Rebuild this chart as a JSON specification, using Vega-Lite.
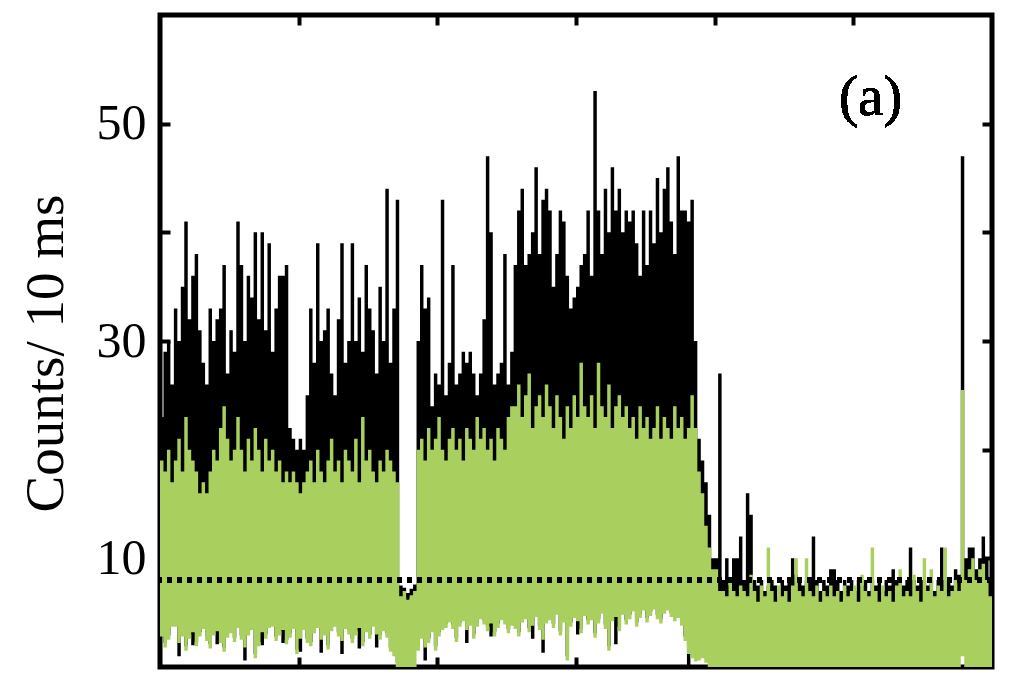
{
"$schema": "https://vega.github.io/schema/vega-lite/v6.json",
"width": 832, "height": 652,
"autosize": {"type": "none"},
"padding": {"left": 160, "top": 15, "right": 32, "bottom": 22},
"background": "white",
"config": {"view": {"stroke": "black", "strokeWidth": 5}, "axis": {"domain": false, "grid": false, "labelFont": "Liberation Serif", "titleFont": "Liberation Serif"}},
"data": {"values": [
{"t":0,"bl":3.2,"bh":23,"gl":2.8,"gh":19},
{"t":1,"bl":2.2,"bh":29,"gl":1.8,"gh":18},
{"t":2,"bl":2.9,"bh":30,"gl":2.5,"gh":20},
{"t":3,"bl":4.1,"bh":26,"gl":3.7,"gh":17},
{"t":4,"bl":4.1,"bh":33,"gl":3.7,"gh":19},
{"t":5,"bl":1.0,"bh":30,"gl":2.2,"gh":21},
{"t":6,"bl":3.2,"bh":35,"gl":2.8,"gh":18},
{"t":7,"bl":1.9,"bh":41,"gl":1.5,"gh":23},
{"t":8,"bl":3.0,"bh":32,"gl":2.6,"gh":20},
{"t":9,"bl":2.0,"bh":36,"gl":3.2,"gh":19},
{"t":10,"bl":2.3,"bh":38,"gl":1.9,"gh":18},
{"t":11,"bl":3.2,"bh":31,"gl":2.8,"gh":16},
{"t":12,"bl":3.9,"bh":28,"gl":3.5,"gh":17},
{"t":13,"bl":2.8,"bh":26,"gl":2.4,"gh":16},
{"t":14,"bl":2.1,"bh":33,"gl":1.7,"gh":18},
{"t":15,"bl":3.3,"bh":30,"gl":2.9,"gh":20},
{"t":16,"bl":2.1,"bh":32,"gl":3.3,"gh":19},
{"t":17,"bl":2.6,"bh":33,"gl":2.2,"gh":22},
{"t":18,"bl":1.8,"bh":37,"gl":1.4,"gh":24},
{"t":19,"bl":3.1,"bh":27,"gl":2.7,"gh":21},
{"t":20,"bl":3.5,"bh":31,"gl":3.1,"gh":19},
{"t":21,"bl":2.7,"bh":29,"gl":2.3,"gh":20},
{"t":22,"bl":4.0,"bh":41,"gl":3.6,"gh":23},
{"t":23,"bl":2.9,"bh":37,"gl":2.5,"gh":20},
{"t":24,"bl":0.6,"bh":30,"gl":1.8,"gh":18},
{"t":25,"bl":3.3,"bh":36,"gl":2.9,"gh":21},
{"t":26,"bl":3.8,"bh":34,"gl":3.4,"gh":19},
{"t":27,"bl":1.2,"bh":40,"gl":0.8,"gh":22},
{"t":28,"bl":2.3,"bh":32,"gl":1.9,"gh":20},
{"t":29,"bl":2.0,"bh":40,"gl":3.2,"gh":18},
{"t":30,"bl":3.0,"bh":31,"gl":2.6,"gh":21},
{"t":31,"bl":4.0,"bh":39,"gl":3.6,"gh":19},
{"t":32,"bl":4.1,"bh":29,"gl":3.7,"gh":20},
{"t":33,"bl":2.8,"bh":33,"gl":2.4,"gh":18},
{"t":34,"bl":3.3,"bh":36,"gl":2.9,"gh":19},
{"t":35,"bl":2.2,"bh":36,"gl":3.4,"gh":17},
{"t":36,"bl":2.5,"bh":37,"gl":2.1,"gh":18},
{"t":37,"bl":3.1,"bh":22,"gl":2.7,"gh":17},
{"t":38,"bl":3.9,"bh":21,"gl":3.5,"gh":18},
{"t":39,"bl":1.6,"bh":20,"gl":1.2,"gh":17},
{"t":40,"bl":1.4,"bh":21,"gl":2.6,"gh":16},
{"t":41,"bl":3.8,"bh":20,"gl":3.4,"gh":17},
{"t":42,"bl":2.6,"bh":25,"gl":2.2,"gh":18},
{"t":43,"bl":2.3,"bh":33,"gl":1.9,"gh":19},
{"t":44,"bl":3.5,"bh":28,"gl":3.1,"gh":17},
{"t":45,"bl":4.0,"bh":39,"gl":3.6,"gh":20},
{"t":46,"bl":1.3,"bh":30,"gl":2.5,"gh":18},
{"t":47,"bl":3.3,"bh":31,"gl":2.9,"gh":17},
{"t":48,"bl":2.0,"bh":33,"gl":1.6,"gh":19},
{"t":49,"bl":3.7,"bh":27,"gl":3.3,"gh":21},
{"t":50,"bl":4.1,"bh":25,"gl":3.7,"gh":18},
{"t":51,"bl":3.2,"bh":32,"gl":2.8,"gh":19},
{"t":52,"bl":1.2,"bh":39,"gl":2.4,"gh":17},
{"t":53,"bl":3.9,"bh":28,"gl":3.5,"gh":20},
{"t":54,"bl":3.4,"bh":30,"gl":3.0,"gh":19},
{"t":55,"bl":2.6,"bh":39,"gl":2.2,"gh":18},
{"t":56,"bl":3.3,"bh":30,"gl":2.9,"gh":21},
{"t":57,"bl":1.7,"bh":34,"gl":3.6,"gh":17},
{"t":58,"bl":2.3,"bh":29,"gl":1.9,"gh":23},
{"t":59,"bl":3.6,"bh":37,"gl":3.2,"gh":19},
{"t":60,"bl":3.0,"bh":33,"gl":2.6,"gh":20},
{"t":61,"bl":4.1,"bh":31,"gl":3.7,"gh":18},
{"t":62,"bl":1.8,"bh":27,"gl":3.0,"gh":17},
{"t":63,"bl":2.9,"bh":35,"gl":2.5,"gh":19},
{"t":64,"bl":3.7,"bh":30,"gl":3.3,"gh":18},
{"t":65,"bl":3.1,"bh":44,"gl":2.7,"gh":20},
{"t":66,"bl":1.8,"bh":28,"gl":1.4,"gh":19},
{"t":67,"bl":1.4,"bh":33,"gl":1.0,"gh":18},
{"t":68,"bl":0.4,"bh":43,"gl":0,"gh":17},
{"t":69,"bl":6.2,"bh":7.5,"gl":0,"gh":6.5},
{"t":70,"bl":6.4,"bh":7.3,"gl":0,"gh":7},
{"t":71,"bl":6.0,"bh":6.8,"gl":0,"gh":6.2},
{"t":72,"bl":6.3,"bh":7.2,"gl":0,"gh":6.6},
{"t":73,"bl":6.5,"bh":7.6,"gl":0,"gh":7},
{"t":74,"bl":1.9,"bh":30,"gl":1.5,"gh":20},
{"t":75,"bl":3.0,"bh":37,"gl":2.6,"gh":21},
{"t":76,"bl":0.6,"bh":33,"gl":1.8,"gh":19},
{"t":77,"bl":2.6,"bh":34,"gl":2.2,"gh":22},
{"t":78,"bl":3.6,"bh":24,"gl":3.2,"gh":20},
{"t":79,"bl":1.9,"bh":27,"gl":1.5,"gh":21},
{"t":80,"bl":3.2,"bh":26,"gl":2.8,"gh":23},
{"t":81,"bl":3.8,"bh":43,"gl":3.4,"gh":20},
{"t":82,"bl":4.0,"bh":25,"gl":3.6,"gh":19},
{"t":83,"bl":4.5,"bh":28,"gl":4.1,"gh":21},
{"t":84,"bl":3.9,"bh":37,"gl":3.5,"gh":22},
{"t":85,"bl":2.7,"bh":26,"gl":2.3,"gh":20},
{"t":86,"bl":4.1,"bh":27,"gl":3.7,"gh":21},
{"t":87,"bl":4.6,"bh":29,"gl":4.2,"gh":19},
{"t":88,"bl":2.2,"bh":28,"gl":3.4,"gh":22},
{"t":89,"bl":4.2,"bh":29,"gl":3.8,"gh":21},
{"t":90,"bl":3.0,"bh":27,"gl":2.6,"gh":20},
{"t":91,"bl":4.1,"bh":25,"gl":3.7,"gh":23},
{"t":92,"bl":4.8,"bh":27,"gl":4.4,"gh":21},
{"t":93,"bl":4.3,"bh":32,"gl":3.9,"gh":22},
{"t":94,"bl":3.7,"bh":47,"gl":3.3,"gh":20},
{"t":95,"bl":2.8,"bh":40,"gl":4.0,"gh":21},
{"t":96,"bl":3.2,"bh":26,"gl":2.8,"gh":19},
{"t":97,"bl":4.0,"bh":27,"gl":3.6,"gh":22},
{"t":98,"bl":4.7,"bh":28,"gl":4.3,"gh":21},
{"t":99,"bl":4.3,"bh":38,"gl":3.9,"gh":20},
{"t":100,"bl":3.5,"bh":26,"gl":3.1,"gh":23},
{"t":101,"bl":4.2,"bh":29,"gl":3.8,"gh":24},
{"t":102,"bl":3.9,"bh":37,"gl":3.5,"gh":24},
{"t":103,"bl":3.2,"bh":42,"gl":2.8,"gh":26},
{"t":104,"bl":4.5,"bh":44,"gl":4.1,"gh":23},
{"t":105,"bl":4.8,"bh":37,"gl":4.4,"gh":25},
{"t":106,"bl":3.6,"bh":38,"gl":3.2,"gh":27},
{"t":107,"bl":2.6,"bh":40,"gl":3.8,"gh":22},
{"t":108,"bl":5.0,"bh":46,"gl":4.6,"gh":24},
{"t":109,"bl":3.8,"bh":38,"gl":3.4,"gh":25},
{"t":110,"bl":1.3,"bh":43,"gl":2.5,"gh":23},
{"t":111,"bl":4.4,"bh":44,"gl":4.0,"gh":26},
{"t":112,"bl":4.7,"bh":42,"gl":4.3,"gh":24},
{"t":113,"bl":4.0,"bh":35,"gl":3.6,"gh":22},
{"t":114,"bl":5.2,"bh":38,"gl":4.8,"gh":25},
{"t":115,"bl":3.3,"bh":42,"gl":2.9,"gh":23},
{"t":116,"bl":4.5,"bh":41,"gl":4.1,"gh":21},
{"t":117,"bl":1.0,"bh":36,"gl":0.6,"gh":24},
{"t":118,"bl":4.1,"bh":33,"gl":3.7,"gh":22},
{"t":119,"bl":4.9,"bh":34,"gl":4.5,"gh":25},
{"t":120,"bl":3.0,"bh":35,"gl":4.2,"gh":23},
{"t":121,"bl":3.5,"bh":37,"gl":3.1,"gh":28},
{"t":122,"bl":5.1,"bh":38,"gl":4.7,"gh":24},
{"t":123,"bl":4.3,"bh":42,"gl":3.9,"gh":23},
{"t":124,"bl":4.7,"bh":36,"gl":4.3,"gh":25},
{"t":125,"bl":3.1,"bh":53,"gl":2.7,"gh":22},
{"t":126,"bl":4.4,"bh":42,"gl":4.0,"gh":28},
{"t":127,"bl":5.3,"bh":38,"gl":4.9,"gh":24},
{"t":128,"bl":3.9,"bh":44,"gl":3.5,"gh":23},
{"t":129,"bl":1.9,"bh":40,"gl":1.5,"gh":26},
{"t":130,"bl":4.6,"bh":46,"gl":4.2,"gh":22},
{"t":131,"bl":2.1,"bh":42,"gl":4.6,"gh":24},
{"t":132,"bl":3.7,"bh":44,"gl":3.3,"gh":25},
{"t":133,"bl":5.2,"bh":40,"gl":4.8,"gh":23},
{"t":134,"bl":4.3,"bh":42,"gl":3.9,"gh":24},
{"t":135,"bl":4.8,"bh":41,"gl":4.4,"gh":22},
{"t":136,"bl":5.5,"bh":42,"gl":5.1,"gh":23},
{"t":137,"bl":4.1,"bh":39,"gl":3.7,"gh":21},
{"t":138,"bl":4.9,"bh":36,"gl":4.5,"gh":24},
{"t":139,"bl":5.6,"bh":42,"gl":5.2,"gh":22},
{"t":140,"bl":4.5,"bh":37,"gl":4.1,"gh":23},
{"t":141,"bl":5.1,"bh":42,"gl":4.7,"gh":21},
{"t":142,"bl":5.7,"bh":39,"gl":5.3,"gh":22},
{"t":143,"bl":4.8,"bh":45,"gl":4.4,"gh":24},
{"t":144,"bl":4.4,"bh":40,"gl":4.0,"gh":21},
{"t":145,"bl":5.3,"bh":44,"gl":4.9,"gh":23},
{"t":146,"bl":5.6,"bh":46,"gl":5.2,"gh":22},
{"t":147,"bl":5.0,"bh":41,"gl":4.6,"gh":21},
{"t":148,"bl":4.6,"bh":38,"gl":4.2,"gh":24},
{"t":149,"bl":4.9,"bh":47,"gl":4.5,"gh":22},
{"t":150,"bl":4.2,"bh":42,"gl":3.8,"gh":23},
{"t":151,"bl":2.8,"bh":42,"gl":2.4,"gh":21},
{"t":152,"bl":0,"bh":41,"gl":1.2,"gh":22},
{"t":153,"bl":1.2,"bh":43,"gl":0.8,"gh":25},
{"t":154,"bl":0.9,"bh":30,"gl":0.5,"gh":22},
{"t":155,"bl":1.0,"bh":21,"gl":0.6,"gh":18},
{"t":156,"bl":1.2,"bh":19,"gl":0.8,"gh":16},
{"t":157,"bl":0.8,"bh":17,"gl":0.4,"gh":13},
{"t":158,"bl":0.4,"bh":14,"gl":0,"gh":11},
{"t":159,"bl":4,"bh":10,"gl":0,"gh":9},
{"t":160,"bl":5,"bh":10,"gl":0,"gh":9},
{"t":161,"bl":5,"bh":27,"gl":0,"gh":7},
{"t":162,"bl":5,"bh":8,"gl":0,"gh":7},
{"t":163,"bl":5,"bh":10,"gl":0,"gh":6.5},
{"t":164,"bl":5,"bh":7.5,"gl":0,"gh":8},
{"t":165,"bl":5,"bh":10,"gl":0,"gh":7},
{"t":166,"bl":5,"bh":10,"gl":0,"gh":6.5},
{"t":167,"bl":5,"bh":12,"gl":0,"gh":7.5},
{"t":168,"bl":5,"bh":8,"gl":0,"gh":7},
{"t":169,"bl":5,"bh":16,"gl":0,"gh":6.5},
{"t":170,"bl":5,"bh":14,"gl":0,"gh":8.5},
{"t":171,"bl":5,"bh":8,"gl":0,"gh":7},
{"t":172,"bl":5,"bh":7.5,"gl":0,"gh":6},
{"t":173,"bl":5,"bh":8,"gl":0,"gh":7.5},
{"t":174,"bl":5,"bh":7,"gl":0,"gh":6.5},
{"t":175,"bl":5,"bh":7.5,"gl":0,"gh":11},
{"t":176,"bl":5,"bh":8,"gl":0,"gh":7},
{"t":177,"bl":5,"bh":7.5,"gl":0,"gh":6},
{"t":178,"bl":5,"bh":6.5,"gl":0,"gh":7.5},
{"t":179,"bl":5,"bh":8,"gl":0,"gh":6.5},
{"t":180,"bl":5,"bh":7.5,"gl":0,"gh":7},
{"t":181,"bl":5,"bh":8,"gl":0,"gh":6},
{"t":182,"bl":5,"bh":10,"gl":0,"gh":7.5},
{"t":183,"bl":5,"bh":8.5,"gl":0,"gh":10},
{"t":184,"bl":5,"bh":8,"gl":0,"gh":7},
{"t":185,"bl":5,"bh":7.5,"gl":0,"gh":6.5},
{"t":186,"bl":5,"bh":8,"gl":0,"gh":10},
{"t":187,"bl":5,"bh":8,"gl":0,"gh":7},
{"t":188,"bl":5,"bh":12,"gl":0,"gh":6.5},
{"t":189,"bl":5,"bh":8,"gl":0,"gh":7.5},
{"t":190,"bl":5,"bh":7,"gl":0,"gh":6},
{"t":191,"bl":5,"bh":8,"gl":0,"gh":7},
{"t":192,"bl":5,"bh":7.5,"gl":0,"gh":6.5},
{"t":193,"bl":5,"bh":9,"gl":0,"gh":7.5},
{"t":194,"bl":5,"bh":9,"gl":0,"gh":6.5},
{"t":195,"bl":5,"bh":8,"gl":0,"gh":7},
{"t":196,"bl":5,"bh":7,"gl":0,"gh":6},
{"t":197,"bl":5,"bh":8,"gl":0,"gh":7.5},
{"t":198,"bl":5,"bh":7.5,"gl":0,"gh":6.5},
{"t":199,"bl":5,"bh":8,"gl":0,"gh":7},
{"t":200,"bl":5,"bh":7,"gl":0,"gh":7.5},
{"t":201,"bl":5,"bh":8,"gl":0,"gh":6},
{"t":202,"bl":5,"bh":7.5,"gl":0,"gh":8.5},
{"t":203,"bl":5,"bh":8,"gl":0,"gh":7},
{"t":204,"bl":5,"bh":7,"gl":0,"gh":6.5},
{"t":205,"bl":5,"bh":8,"gl":0,"gh":11},
{"t":206,"bl":5,"bh":7.5,"gl":0,"gh":7},
{"t":207,"bl":5,"bh":8,"gl":0,"gh":6},
{"t":208,"bl":5,"bh":7,"gl":0,"gh":7.5},
{"t":209,"bl":5,"bh":8,"gl":0,"gh":6.5},
{"t":210,"bl":5,"bh":7.5,"gl":0,"gh":7},
{"t":211,"bl":5,"bh":9,"gl":0,"gh":6},
{"t":212,"bl":5,"bh":8,"gl":0,"gh":7.5},
{"t":213,"bl":5,"bh":8,"gl":0,"gh":9},
{"t":214,"bl":5,"bh":7.5,"gl":0,"gh":6.5},
{"t":215,"bl":5,"bh":8,"gl":0,"gh":7},
{"t":216,"bl":5,"bh":11,"gl":0,"gh":6.5},
{"t":217,"bl":5,"bh":8,"gl":0,"gh":8.5},
{"t":218,"bl":5,"bh":7.5,"gl":0,"gh":7},
{"t":219,"bl":5,"bh":8,"gl":0,"gh":6},
{"t":220,"bl":5,"bh":8,"gl":0,"gh":10},
{"t":221,"bl":5,"bh":7.5,"gl":0,"gh":7},
{"t":222,"bl":5,"bh":8,"gl":0,"gh":9},
{"t":223,"bl":5,"bh":7,"gl":0,"gh":6.5},
{"t":224,"bl":5,"bh":8,"gl":0,"gh":7.5},
{"t":225,"bl":5,"bh":11,"gl":0,"gh":7},
{"t":226,"bl":5,"bh":8,"gl":0,"gh":11},
{"t":227,"bl":5,"bh":8,"gl":0,"gh":6.5},
{"t":228,"bl":5,"bh":7.5,"gl":0,"gh":7},
{"t":229,"bl":5,"bh":9,"gl":0,"gh":8},
{"t":230,"bl":5,"bh":8.5,"gl":0,"gh":7},
{"t":231,"bl":5,"bh":47,"gl":1,"gh":25.5},
{"t":232,"bl":5,"bh":10,"gl":0,"gh":8},
{"t":233,"bl":5,"bh":11,"gl":0,"gh":9},
{"t":234,"bl":5,"bh":11,"gl":0,"gh":10},
{"t":235,"bl":5,"bh":9,"gl":0,"gh":8},
{"t":236,"bl":5,"bh":10,"gl":0,"gh":9},
{"t":237,"bl":5,"bh":12,"gl":0,"gh":9.5},
{"t":238,"bl":5,"bh":10,"gl":0,"gh":8},
{"t":239,"bl":5,"bh":8,"gl":0,"gh":6.5},
{"t":240,"bl":5,"bh":8,"gl":0,"gh":6.5}
]},
"layer": [
{"mark": {"type": "area", "interpolate": "step-after", "color": "black"},
 "encoding": {
  "x": {"field": "t", "type": "quantitative", "scale": {"domain": [0, 240], "nice": false, "zero": false},
        "axis": {"orient": "bottom", "values": [40, 80, 120, 160, 200], "labels": false, "tickSize": -10, "tickWidth": 4, "tickColor": "black", "title": null}},
  "y": {"field": "bl", "type": "quantitative", "scale": {"domain": [0, 60], "nice": false},
        "axis": {"orient": "left", "values": [10, 20, 30, 40, 50], "labelExpr": "datum.value % 20 == 10 ? datum.label : ''",
                 "tickSize": -10, "tickWidth": 4, "tickColor": "black", "labelFontSize": 50, "labelColor": "black", "labelPadding": 24,
                 "title": "Counts/ 10 ms", "titleFontSize": 55, "titleFontWeight": "normal", "titleColor": "black",
                 "titleAngle": -90, "titleAlign": "center", "titleBaseline": "middle", "titleX": -115, "titleY": 338}},
  "y2": {"field": "bh"}
 }},
{"mark": {"type": "area", "interpolate": "step-after", "color": "#a9d05f"},
 "encoding": {
  "x": {"field": "t", "type": "quantitative",
        "axis": {"orient": "top", "values": [40, 80, 120, 160, 200], "labels": false, "tickSize": -10, "tickWidth": 4, "tickColor": "black", "title": null}},
  "y": {"field": "gl", "type": "quantitative",
        "axis": {"orient": "right", "values": [10, 20, 30, 40, 50], "labels": false, "tickSize": -10, "tickWidth": 4, "tickColor": "black", "title": null}},
  "y2": {"field": "gh"}
 }},
{"mark": {"type": "rule", "strokeDash": [5, 5], "strokeWidth": 5, "strokeCap": "butt", "color": "black"},
 "encoding": {"y": {"datum": 8, "axis": null}}},
{"mark": {"type": "text", "font": "Liberation Serif", "fontSize": 57, "align": "center", "baseline": "middle", "color": "black"},
 "encoding": {"x": {"datum": 205, "axis": null}, "y": {"datum": 52.4, "axis": null}, "text": {"value": "(a)"}}}
],
"resolve": {"axis": {"x": "independent", "y": "independent"}}
}
